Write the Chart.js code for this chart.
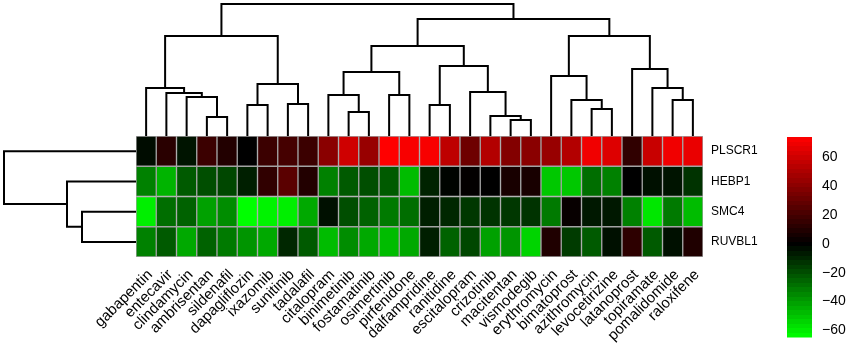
<!DOCTYPE html>
<html>
<head>
<meta charset="utf-8">
<script src="https://cdn.jsdelivr.net/npm/chart.js@4.4.1/dist/chart.umd.min.js"></script>
<style>
  body { margin: 0; background: #fff; }
  #wrap { position: relative; width: 851px; height: 356px; overflow: hidden; }
  canvas { position: absolute; }
</style>
</head>
<body>
<div id="wrap">
  <canvas id="heat" width="851" height="356" style="left:0;top:0"></canvas>
  <canvas id="topTree" width="567" height="136" style="left:136px;top:0"></canvas>
  <canvas id="sideTree" width="136" height="121" style="left:0;top:136px"></canvas>
  <canvas id="colorBar" width="64" height="356" style="left:787px;top:0"></canvas>
</div>
<script>
const drugs = ['gabapentin', 'entecavir', 'clindamycin', 'ambrisentan', 'sildenafil', 'dapagliflozin',
    'ixazomib', 'sunitinib', 'tadalafil', 'citalopram', 'binimetinib', 'fostamatinib', 'osimertinib',
    'pirfenidone', 'dalfampridine', 'ranitidine', 'escitalopram', 'crizotinib', 'macitentan',
    'vismodegib', 'erythromycin', 'bimatoprost', 'azithromycin', 'levocetirizine', 'latanoprost',
    'topiramate', 'pomalidomide', 'raloxifene'];
const genes = ['PLSCR1', 'HEBP1', 'SMC4', 'RUVBL1'];

const plscr1 = [-3, 12, -5, 17, 10, 0, 17, 20, 17, 40, 60, 44, 74, 72, 72, 55, 32, 52, 38, 40, 44, 52, 70, 64, 14, 58, 70, 68];
const hebp1  = [-33, -46, -23, -20, -18, -8, 14, 26, 10, -33, -23, -20, -23, -48, -9, -1, 1, 0, 7, 7, -51, -51, -28, -33, 0, -4, -5, -13];
const smc4   = [-61, -28, -25, -41, -36, -65, -62, -61, -43, -4, -20, -25, -31, -28, -8, -10, -14, -13, -14, -13, -31, 2, -6, -6, -33, -59, -31, -48];
const ruvbl1 = [-33, -23, -43, -25, -31, -38, -43, -10, -23, -48, -36, -43, -48, -43, -8, -25, -18, -41, -38, -54, 9, -15, -23, -4, 13, -23, -4, 9];
const rows = [plscr1, hebp1, smc4, ruvbl1];

// hclust style merges: negative = leaf (1-based), positive = earlier merge
const colMergeA = [-4, -3, -2, -1, -6, -8, 5, 4, -11, -10, -13, 10, -15, -19, -18, -17, 13, 12, -23, -22, -21, -27, -26, -25, 21, 18, 8];
const colMergeB = [-5, 1, 2, 3, -7, -9, 6, 7, -12, 9, -14, 11, -16, -20, 14, 15, 16, 17, -24, 19, 20, -28, 22, 23, 24, 25, 26];
const colMergeH = [19, 39, 43, 48, 31, 32, 52, 100, 24, 41, 41, 64, 31, 16, 20, 44, 70, 90, 27, 36, 60, 36, 48, 67, 100, 117, 132];
const rowMergeA = [-3, -2, -1];
const rowMergeB = [-4, 1, 2];
const rowMergeH = [54, 69, 132];

const cbMin = -65, cbMax = 74;
const cbTicks = [-60, -40, -20, 0, 20, 40, 60];

const font = "'Liberation Sans', Arial, sans-serif";

function heatColor(v) {
    if (v >= 0) return `rgb(${Math.round(Math.min(1, v / cbMax) * 255)},0,0)`;
    return `rgb(0,${Math.round(Math.min(1, v / cbMin) * 255)},0)`;
}

function dendroLines(mA, mB, mH) {
    const pos = [], hgt = [];
    const get = r => r < 0 ? { p: -r - 0.5, h: 0 } : { p: pos[r - 1], h: hgt[r - 1] };
    return mA.map((a, i) => {
        const A = get(a), B = get(mB[i]), h = mH[i];
        pos.push((A.p + B.p) / 2);
        hgt.push(h);
        return [[A.p, A.h], [A.p, h], [B.p, h], [B.p, B.h]];
    });
}

function lineSet(points) {
    return {
        data: points,
        showLine: true,
        borderColor: '#000',
        borderWidth: 2,
        pointRadius: 0,
        tension: 0,
        clip: false
    };
}

// heatmap
new Chart(document.getElementById('heat'), {
    type: 'bar',
    data: {
        labels: drugs,
        datasets: rows.map((vals, r) => ({
            label: genes[r],
            data: vals.map(() => [r, r + 1]),
            backgroundColor: vals.map(heatColor),
            borderColor: '#a3a3a3',
            borderWidth: 1,
            borderSkipped: false,
            grouped: false,
            barPercentage: 1,
            categoryPercentage: 1
        }))
    },
    options: {
        responsive: false,
        animation: false,
        layout: { padding: { left: 136, top: 136, right: 0, bottom: 0 } },
        plugins: { legend: { display: false }, tooltip: { enabled: false } },
        scales: {
            x: {
                grid: { display: false, drawTicks: false },
                border: { display: false },
                ticks: {
                    autoSkip: false, minRotation: 45, maxRotation: 45,
                    color: '#000', padding: 9, labelOffset: 4,
                    font: { family: font, size: 15 }
                },
                afterFit: s => { s.height = 99; }
            },
            y: {
                position: 'right',
                min: 0, max: 4, reverse: true,
                grid: { display: false, drawTicks: false },
                border: { display: false },
                afterBuildTicks: s => { s.ticks = genes.map((g, i) => ({ value: i + 0.5 })); },
                ticks: {
                    color: '#000', padding: 8,
                    font: { family: font, size: 12 },
                    callback: (v, i) => genes[i]
                },
                afterFit: s => { s.width = 148; }
            }
        }
    }
});

// column dendrogram
new Chart(document.getElementById('topTree'), {
    type: 'scatter',
    data: {
        datasets: dendroLines(colMergeA, colMergeB, colMergeH)
            .map(seg => lineSet(seg.map(([p, h]) => ({ x: p, y: h }))))
    },
    options: {
        responsive: false,
        animation: false,
        layout: { padding: 0 },
        plugins: { legend: { display: false }, tooltip: { enabled: false } },
        scales: {
            x: { type: 'linear', display: false, min: 0, max: drugs.length },
            y: { type: 'linear', display: false, min: 0, max: 136 }
        }
    }
});

// row dendrogram
new Chart(document.getElementById('sideTree'), {
    type: 'scatter',
    data: {
        datasets: dendroLines(rowMergeA, rowMergeB, rowMergeH)
            .map(seg => lineSet(seg.map(([p, h]) => ({ x: h, y: p }))))
    },
    options: {
        responsive: false,
        animation: false,
        layout: { padding: 0 },
        plugins: { legend: { display: false }, tooltip: { enabled: false } },
        scales: {
            x: { type: 'linear', display: false, min: 0, max: 136, reverse: true },
            y: { type: 'linear', display: false, min: 0, max: genes.length, reverse: true }
        }
    }
});

// colour key
new Chart(document.getElementById('colorBar'), {
    type: 'bar',
    data: {
        labels: [''],
        datasets: [{
            data: [[cbMin, cbMax]],
            barPercentage: 1,
            categoryPercentage: 1,
            backgroundColor: ctx => {
                const chart = ctx.chart;
                if (!chart.chartArea) return '#000';
                const y = chart.scales.y;
                const y0 = y.getPixelForValue(cbMin), y1 = y.getPixelForValue(cbMax);
                const g = chart.ctx.createLinearGradient(0, y0, 0, y1);
                const n = 44;
                for (let i = 0; i < n; i++) {
                    const c = heatColor(cbMin + (i + 0.5) * (cbMax - cbMin) / n);
                    g.addColorStop(i / n, c);
                    g.addColorStop((i + 1) / n, c);
                }
                return g;
            }
        }]
    },
    options: {
        responsive: false,
        animation: false,
        layout: { padding: { top: 137, bottom: 3, left: 0, right: 0 } },
        plugins: { legend: { display: false }, tooltip: { enabled: false } },
        scales: {
            x: { display: false },
            y: {
                position: 'right',
                min: cbMin, max: cbMax,
                grid: { display: false, drawTicks: false },
                border: { display: false },
                afterBuildTicks: s => { s.ticks = cbTicks.map(v => ({ value: v })); },
                ticks: {
                    color: '#000', padding: 10,
                    font: { family: font, size: 14 },
                    callback: v => String(v).replace('-', '\u2212')
                },
                afterFit: s => { s.width = 39; }
            }
        }
    }
});
</script>
</body>
</html>
